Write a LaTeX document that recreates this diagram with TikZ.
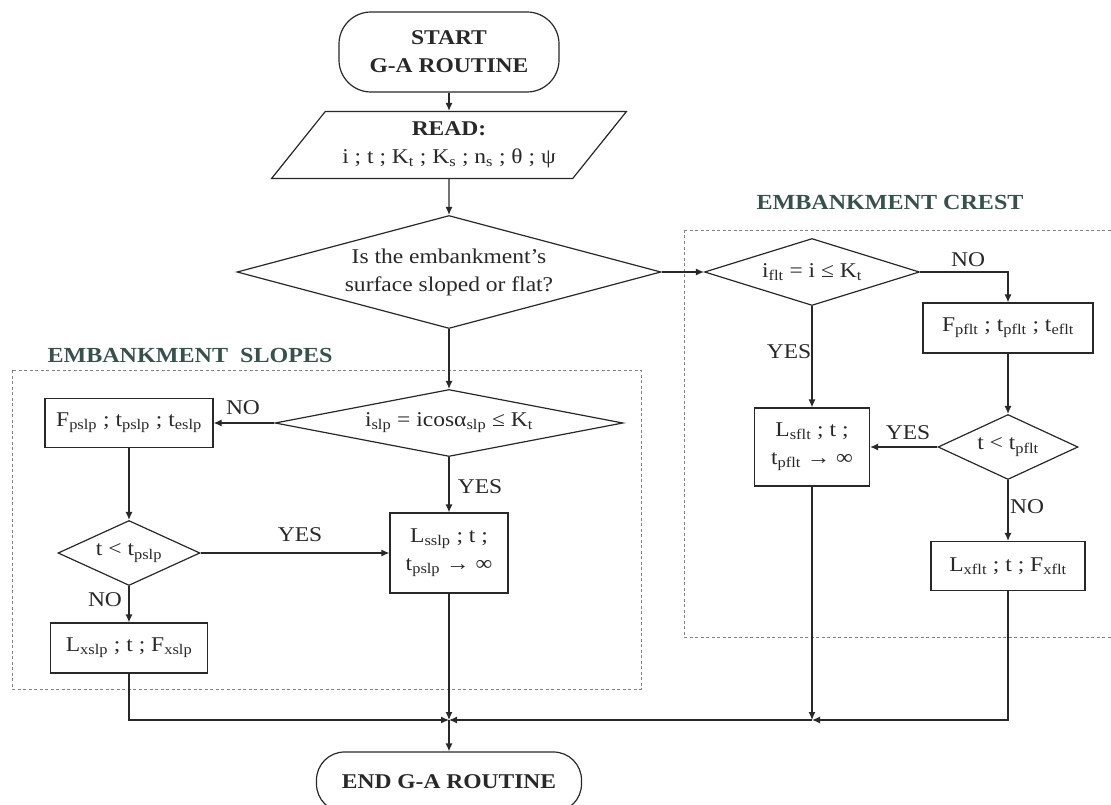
\documentclass[tikz,border=0pt]{standalone}
\usepackage{fontspec}
\setmainfont{Liberation Serif}[FakeStretch=1.12]
\usetikzlibrary{shapes.geometric,arrows.meta}
\newcommand\fs{\fontsize{21}{28}\selectfont}
\newcommand\hs{\fontsize{21.5}{26}\selectfont\bfseries}
\definecolor{headcol}{RGB}{55,82,76}
\definecolor{dashcol}{RGB}{130,130,130}
\definecolor{ink}{RGB}{40,40,40}
\tikzset{
  every node/.style={font=\fs, inner sep=0pt, align=center, text=ink},
  stepbox/.style={draw=ink, rectangle, line width=1.2pt},
  term/.style={draw=ink, rectangle, line width=1.2pt},
  decide/.style={draw=ink, diamond, line width=1.2pt},
  flow/.style={draw=ink, line width=1.2pt, -{Latex[length=8pt,width=7pt]}},
  grp/.style={draw=dashcol, line width=0.9pt, dash pattern=on 3pt off 2.5pt},
  head/.style={font=\hs, text=headcol},
  lbl/.style={font=\fs},
}
\begin{document}
\begin{tikzpicture}[x=1pt,y=-1pt]
\useasboundingbox (0,0) rectangle (1111,805);
% group frames
\draw[grp] (12,370) rectangle (641,689);
\draw[grp] (684,230) -- (1120,230);
\draw[grp] (684,230) -- (684,637) -- (1120,637);
\node[head] (hslope) at (190,355) {EMBANKMENT\ \ SLOPES};
\node[head] (hcrest) at (890,202) {EMBANKMENT CREST};
% main column
\node[term, rounded corners=32pt, minimum width=220pt, minimum height=80pt] (start) at (449,52)
  {\textbf{START}\\\textbf{G-A ROUTINE}};
\node[draw=ink, line width=1.2pt, trapezium, trapezium left angle=45, trapezium right angle=135,
  trapezium stretches=true, minimum width=355pt, minimum height=67pt] (read) at (449,145)
  {\textbf{READ:}\\ i ; t ; K\textsubscript{t} ; K\textsubscript{s} ; n\textsubscript{s} ; θ ; ψ};
\node[decide, aspect=3.75, minimum width=424pt, minimum height=113pt] (q1) at (449,272)
  {Is the embankment's\\surface sloped or flat?};
% slopes
\node[decide, aspect=5.2, minimum width=348pt, minimum height=67pt] (s1) at (449,423)
  {i\textsubscript{slp} = icosα\textsubscript{slp} ≤ K\textsubscript{t}};
\node[stepbox, minimum width=168pt, minimum height=49pt] (fp) at (129,423)
  {F\textsubscript{pslp} ; t\textsubscript{pslp} ; t\textsubscript{eslp}};
\node[decide, aspect=2.2, minimum width=142pt, minimum height=65pt] (s2) at (129,553)
  {t < t\textsubscript{pslp}};
\node[stepbox, minimum width=118pt, minimum height=80pt] (ls) at (449,553)
  {L\textsubscript{sslp} ; t ;\\ t\textsubscript{pslp} → ∞};
\node[stepbox, minimum width=157pt, minimum height=50pt] (lx) at (129,648)
  {L\textsubscript{xslp} ; t ; F\textsubscript{xslp}};
% crest
\node[decide, aspect=3.2, minimum width=215pt, minimum height=67pt] (c1) at (812,272)
  {i\textsubscript{flt} = i ≤ K\textsubscript{t}};
\node[stepbox, minimum width=170pt, minimum height=50pt] (fpf) at (1008,328)
  {F\textsubscript{pflt} ; t\textsubscript{pflt} ; t\textsubscript{eflt}};
\node[decide, aspect=2.15, minimum width=140pt, minimum height=65pt] (c2) at (1008,447)
  {t < t\textsubscript{pflt}};
\node[stepbox, minimum width=115pt, minimum height=78pt] (lsf) at (812,447)
  {L\textsubscript{sflt} ; t ;\\ t\textsubscript{pflt} → ∞};
\node[stepbox, minimum width=154pt, minimum height=49pt] (lxf) at (1008,566)
  {L\textsubscript{xflt} ; t ; F\textsubscript{xflt}};
% end
\node[term, rounded corners=28pt, minimum width=265pt, minimum height=60pt] (end) at (449,782)
  {\textbf{END G-A ROUTINE}};
\coordinate (j1) at (449,720);
\coordinate (j2) at (812,720);
% connectors
\draw[flow] (start) -- (read);
\draw[flow] (read) -- (q1);
\draw[flow] (q1.east) -- (c1.west);
\draw[flow] (q1.south) -- (s1.north);
\draw[flow] (s1.west) -- (fp.east);
\draw[flow] (fp.south) -- (s2.north);
\draw[flow] (s2.east) -- (ls.west);
\draw[flow] (s1.south) -- (ls.north);
\draw[flow] (s2.south) -- (lx.north);
\draw[flow] (lx.south) |- (j1);
\draw[flow] (ls.south) -- (j1);
\draw[flow] (j2) -- (j1);
\draw[flow] (c1.south) -- (lsf.north);
\draw[flow] (c1.east) -| (fpf.north);
\draw[flow] (fpf.south) -- (c2.north);
\draw[flow] (c2.west) -- (lsf.east);
\draw[flow] (c2.south) -- (lxf.north);
\draw[flow] (lsf.south) -- (j2);
\draw[flow] (lxf.south) |- (j2);
\draw[flow] (j1) -- (end.north);
% labels
\node[lbl] (n1) at (243,408) {NO};
\node[lbl] (y1) at (300,535) {YES};
\node[lbl] (y2) at (480,487) {YES};
\node[lbl] (n2) at (105,600) {NO};
\node[lbl] (n3) at (968,260) {NO};
\node[lbl] (y3) at (789,352) {YES};
\node[lbl] (y4) at (908,433) {YES};
\node[lbl] (n4) at (1027,507) {NO};
\end{tikzpicture}
\end{document}
